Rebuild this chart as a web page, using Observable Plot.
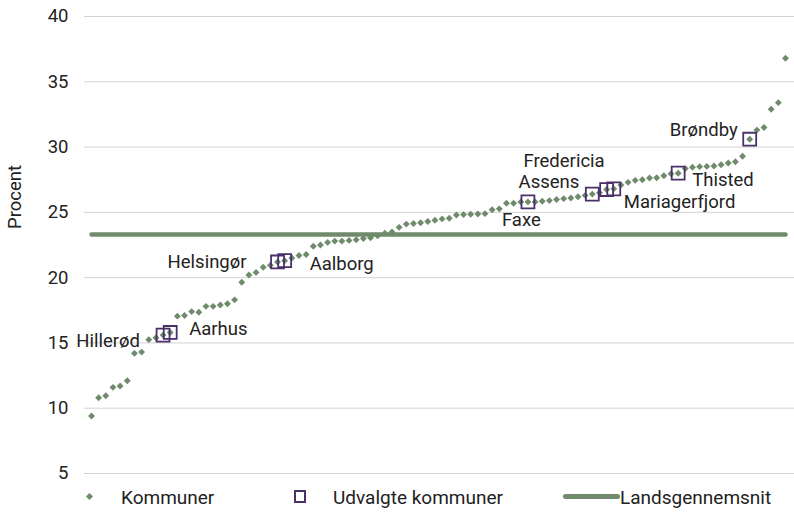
<!DOCTYPE html>
<html>
<head>
<meta charset="utf-8">
<script src="https://cdn.jsdelivr.net/npm/d3@7"></script>
<script src="https://cdn.jsdelivr.net/npm/@observablehq/plot@0.6"></script>
<style>
  html, body { margin: 0; padding: 0; background: #fff; }
  #wrap { position: relative; width: 794px; font-family: Roboto, sans-serif; color: #222; }
  #wrap svg { display: block; }
  #legend { position: relative; width: 794px; height: 29px; font-size: 19px; }
  #legend .item { position: absolute; top: 0; height: 29px; line-height: 27px; white-space: nowrap; }
  #legend .sym { position: absolute; }
</style>
</head>
<body>
<div id="wrap"></div>
<script>
// ---- data ----
const values = [
  9.4, 10.8, 10.95, 11.6, 11.7, 12.1, 14.2, 14.3, 15.25, 15.4,
  15.6, 15.8, 17.05, 17.1, 17.4, 17.35, 17.8, 17.8, 17.9, 18.0,
  18.3, 19.65, 20.2, 20.4, 20.8, 20.95, 21.2, 21.3, 21.5, 21.7,
  21.77, 22.4, 22.5, 22.7, 22.8, 22.8, 22.85, 22.9, 23.0, 23.05,
  23.2, 23.4, 23.5, 23.85, 24.1, 24.15, 24.2, 24.3, 24.4, 24.5,
  24.55, 24.8, 24.83, 24.85, 24.87, 24.9, 25.2, 25.27, 25.7, 25.7,
  25.8, 25.8, 25.8, 25.85, 25.9, 25.98, 26.05, 26.1, 26.2, 26.3,
  26.4, 26.5, 26.75, 26.8, 27.1, 27.3, 27.45, 27.5, 27.63, 27.65,
  27.8, 27.95, 28.0, 28.35, 28.45, 28.5, 28.52, 28.55, 28.65, 28.78,
  28.88, 29.3, 30.6, 31.3, 31.5, 32.9, 33.4, 36.8
];
const selectedNames = ["Hillerød", "Aarhus", "Helsingør", "Aalborg", "Faxe", "Assens", "Fredericia", "Mariagerfjord", "Thisted", "Brøndby"];
const selectedIndex = [10, 11, 26, 27, 61, 70, 72, 73, 82, 92];
const nationalAverage = 23.3;
const yTicks = [5, 10, 15, 20, 25, 30, 35, 40];
const yLabel = "Procent";
const legendLabels = ["Kommuner", "Udvalgte kommuner", "Landsgennemsnit"];

// ---- styles ----
const green = "#6f8b6c";
const purple = "#4a2f6b";
const textColor = "#222";
// label placement (text anchor, offsets in px)
const labelStyle = {
  "Hillerød":      {anchor: "end",   dx: -23, dy: 6},
  "Aarhus":        {anchor: "start", dx: 19,  dy: -3},
  "Helsingør":     {anchor: "end",   dx: -31, dy: 0},
  "Aalborg":       {anchor: "start", dx: 25,  dy: 3},
  "Faxe":          {anchor: "start", dx: -26, dy: 18},
  "Assens":        {anchor: "end",   dx: -13, dy: -12},
  "Fredericia":    {anchor: "end",   dx: -2,  dy: -28},
  "Mariagerfjord": {anchor: "start", dx: 10,  dy: 13},
  "Thisted":       {anchor: "start", dx: 14,  dy: 7},
  "Brøndby":       {anchor: "end",   dx: -12, dy: -9}
};

const points = values.map((v, i) => ({i, v}));
const selected = selectedNames.map((name, k) => ({name, i: selectedIndex[k], v: values[selectedIndex[k]]}));
const avgLine = [{i: 0, v: nationalAverage}, {i: values.length - 1, v: nationalAverage}];

const labelMarks = selected.map(d => {
  const s = labelStyle[d.name];
  return Plot.text([d], {x: "i", y: "v", text: "name", textAnchor: s.anchor, dx: s.dx, dy: s.dy,
    fill: textColor, fontSize: 18.5});
});

const chart = Plot.plot({
  width: 794,
  height: 484,
  marginTop: 16,
  marginBottom: 11,
  marginLeft: 84,
  marginRight: 0,
  style: {fontFamily: "Roboto, sans-serif", fontSize: "18.5px", color: textColor, background: "#fff"},
  x: {domain: [-0.98, 98.26], axis: null},
  y: {domain: [5, 40], ticks: yTicks, tickSize: 0, tickPadding: 16, label: null},
  marks: [
    Plot.ruleY(yTicks, {stroke: "#d3d3d3", strokeWidth: 1}),
    Plot.line(avgLine, {x: "i", y: "v", stroke: green, strokeWidth: 4.5, strokeLinecap: "round"}),
    Plot.dot(points, {x: "i", y: "v", symbol: "diamond2", r: 3.1, fill: green, stroke: "none"}),
    Plot.dot(selected, {x: "i", y: "v", symbol: "square", r: 7.3, fill: "none", stroke: purple, strokeWidth: 1.8}),
    ...labelMarks,
    Plot.text([yLabel], {frameAnchor: "left", text: d => d, rotate: -90, dx: -69, dy: -16, fill: textColor, fontSize: 18.5})
  ]
});

const wrap = document.getElementById("wrap");
wrap.appendChild(chart);

// legend
const legend = document.createElement("div");
legend.id = "legend";
legend.innerHTML = `
  <div class="sym" style="left:87px;top:10px;width:5px;height:5px;background:${green};transform:rotate(45deg);"></div>
  <div class="item" style="left:121px;">${legendLabels[0]}</div>
  <div class="sym" style="left:294px;top:6px;width:12px;height:13px;border:2px solid ${purple};box-sizing:border-box;"></div>
  <div class="item" style="left:333px;">${legendLabels[1]}</div>
  <div class="sym" style="left:563px;top:10px;width:57px;height:5px;border-radius:3px;background:${green};"></div>
  <div class="item" style="left:620px;">${legendLabels[2]}</div>
`;
wrap.appendChild(legend);
</script>
</body>
</html>
